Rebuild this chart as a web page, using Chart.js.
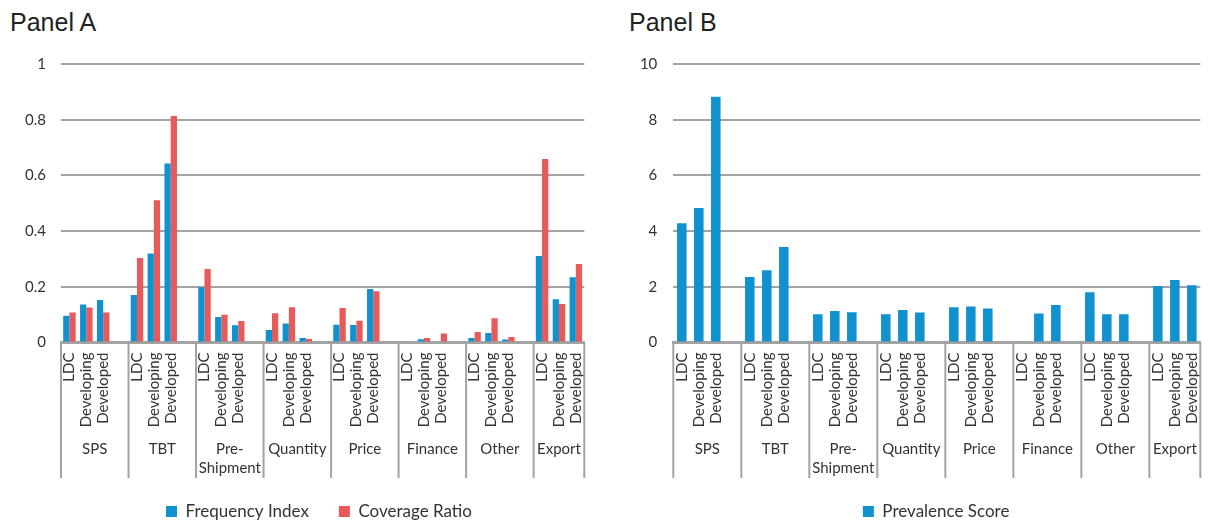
<!DOCTYPE html>
<html>
<head>
<meta charset="utf-8">
<script src="https://cdn.jsdelivr.net/npm/chart.js@4/dist/chart.umd.min.js"></script>
<style>
html, body { margin:0; padding:0; background:#fff; overflow:hidden; width:1208px; height:525px; }
.title { position:absolute; top:10px; font-family:"Liberation Sans", Arial, sans-serif; font-size:25px; line-height:25px; color:#222; }
canvas { position:absolute; top:0; }
</style>
</head>
<body>
<div class="title" style="left:10px">Panel A</div>
<div class="title" style="left:629px">Panel B</div>
<canvas id="panel_a" width="604" height="530" style="left:0"></canvas>
<canvas id="panel_b" width="610" height="530" style="left:610px"></canvas>
<script>
var groups = ['SPS', 'TBT', ['Pre-', 'Shipment'], 'Quantity', 'Price', 'Finance', 'Other', 'Export']
var levels = ['LDC', 'Developing', 'Developed']

// three values per group, in the order of levels
var freq_index = [0.096, 0.136, 0.153,  0.171, 0.320, 0.643,  0.198, 0.092, 0.062,  0.045, 0.068, 0.016,
                  0.064, 0.063, 0.192,  0, 0.012, 0,  0.016, 0.034, 0.011,  0.311, 0.155, 0.234]
var coverage = [0.108, 0.126, 0.108,  0.303, 0.511, 0.813,  0.264, 0.100, 0.077,  0.105, 0.127, 0.0125,
                0.124, 0.078, 0.184,  0, 0.016, 0.032,  0.038, 0.087, 0.020,  0.659, 0.138, 0.282]
var prevalence = [4.28, 4.83, 8.82,  2.35, 2.59, 3.43,  1.01, 1.13, 1.09,  1.01, 1.17, 1.08,
                  1.27, 1.29, 1.22,  0, 1.04, 1.35,  1.80, 1.01, 1.01,  2.03, 2.24, 2.06]

var blue = '#1192ce'
var red = '#e8595a'
var grey = '#a3a3a3'
var text = '#333'
var font = 'Lato'

// each group gets its 3 bars plus an empty slot after it (not after the last one)
function spread(values, blank){
    var out = []
    for(var g=0; g<groups.length; g++){
        for(var i=0; i<levels.length; i++){
            out.push(values[g*levels.length+i])
        }
        if(g<groups.length-1) out.push(blank)
    }
    return out
}
var slot_labels = spread(groups.map(function(){ return levels }).flat(), '')

// group names and the separators under the x axis
var group_axis = {
    id:'group_axis',
    afterDraw:function(chart){
        var c = chart.ctx
        var xs = chart.scales.x
        var area = chart.chartArea
        var n = slot_labels.length
        var w = (area.right-area.left)/n
        var edges = []
        for(var g=0; g<groups.length; g++){
            edges.push(xs.getPixelForValue(g*(levels.length+1)) - w/2)
        }
        edges.push(area.right)
        c.save()
        c.strokeStyle = grey
        c.lineWidth = 2
        edges.forEach(function(x){
            c.beginPath()
            c.moveTo(x, area.bottom)
            c.lineTo(x, 478)
            c.stroke()
        })
        c.fillStyle = text
        c.font = '15px ' + font
        c.textAlign = 'center'
        c.textBaseline = 'middle'
        for(var g=0; g<groups.length; g++){
            var mid = (edges[g]+edges[g+1])/2
            var lines = [].concat(groups[g])
            lines.forEach(function(s, k){
                c.fillText(s, mid, 449 + k*19)
            })
        }
        c.restore()
    }
}

// slide the legend sideways so it sits under the plot
var legend_shift = {
    id:'legend_shift',
    afterLayout:function(chart, args, opts){
        chart.legend.left += opts.dx
        chart.legend.right += opts.dx
    }
}

function make_options(ymax, ystep, pad, ywidth, ypad, dx){
    return {
        responsive:false,
        animation:false,
        layout:{ padding:pad },
        plugins:{
            legend_shift:{ dx:dx },
            legend:{
                position:'bottom',
                labels:{
                    color:text,
                    font:{ family:font, size:17 },
                    boxWidth:11,
                    boxHeight:11,
                    padding:30
                }
            },
            tooltip:{ enabled:false }
        },
        scales:{
            x:{
                grid:{ display:false, drawTicks:false },
                border:{ display:true, color:grey, width:3 },
                ticks:{
                    autoSkip:false,
                    minRotation:90,
                    maxRotation:90,
                    padding:10,
                    color:text,
                    font:{ family:font, size:15 }
                },
                afterFit:function(s){ s.height = 130.5 }
            },
            y:{
                min:0,
                max:ymax,
                grid:{ color:grey, lineWidth:2, drawTicks:false },
                border:{ display:false },
                ticks:{
                    stepSize:ystep,
                    padding:ypad,
                    color:text,
                    font:{ family:font, size:15 },
                    callback:function(v){ return String(+v.toFixed(2)) }
                },
                afterFit:function(s){ s.width = ywidth }
            }
        }
    }
}

var chart_a = new Chart(document.getElementById('panel_a').getContext('2d'), {
    type:'bar',
    plugins:[group_axis, legend_shift],
    data:{
        labels:slot_labels,
        datasets:[{
            label:'Frequency Index',
            data:spread(freq_index, null),
            backgroundColor:blue,
            categoryPercentage:0.74,
            barPercentage:1
        },{
            label:'Coverage Ratio',
            data:spread(coverage, null),
            backgroundColor:red,
            categoryPercentage:0.74,
            barPercentage:1
        }]
    },
    options:make_options(1, 0.2, {left:0, right:10, top:64, bottom:0}, 61, 15, 22)
})

var chart_b = new Chart(document.getElementById('panel_b').getContext('2d'), {
    type:'bar',
    plugins:[group_axis, legend_shift],
    data:{
        labels:slot_labels,
        datasets:[{
            label:'Prevalence Score',
            data:spread(prevalence, null),
            backgroundColor:blue,
            categoryPercentage:0.56,
            barPercentage:1
        }]
    },
    options:make_options(10, 2, {left:0, right:9.7, top:64, bottom:0}, 63.3, 16, 26)
})
</script>
</body>
</html>
